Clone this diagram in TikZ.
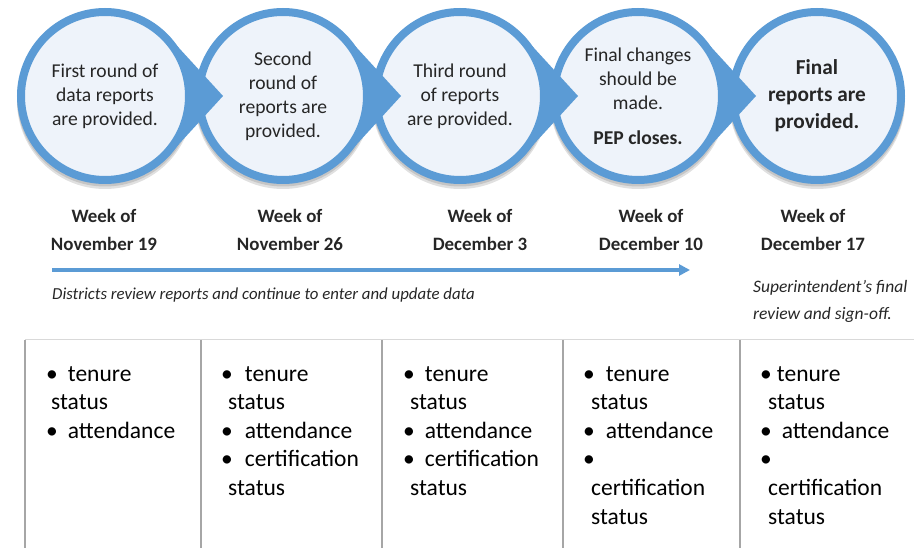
\documentclass[tikz,border=0pt]{standalone}
\usepackage{fontspec}
\setmainfont{Carlito}
\usetikzlibrary{calc,arrows.meta}
\definecolor{ringblue}{HTML}{5B9BD5}
\definecolor{innerfill}{HTML}{EEF3FA}
\definecolor{txt}{HTML}{262626}
\definecolor{tblline}{HTML}{A6A6A6}
\definecolor{tbltop}{HTML}{D9D9D9}
\begin{document}
\begin{tikzpicture}[x=1pt,y=-1pt,
  circ/.style={circle, fill=innerfill, draw=ringblue, line width=8pt, minimum size=168pt,
    inner sep=0pt, align=center, text=txt, font=\fontsize{19.6}{24}\selectfont},
  shade1/.style={fill=black, opacity=0.12},
  tipfill/.style={fill=ringblue},
  week/.style={align=center, text=txt, font=\bfseries\fontsize{18.9}{28}\selectfont},
  note/.style={text=txt, font=\itshape\fontsize{16.8}{26}\selectfont, inner sep=0pt},
  col/.style={anchor=north west, align=left, inner sep=0pt, text=black,
    font=\fontsize{23.5}{28.6}\selectfont},
  tbl/.style={draw=tblline, line width=1.3pt}]
\useasboundingbox (0,0) rectangle (914,548);
% shadows
\foreach \cx in {105,283,460,638,817}{
  \fill[shade1] (\cx,101) circle[radius=88];
  \fill[shade1] (\cx,98.5) circle[radius=88];
}
% circle 5
\node[circ, font=\bfseries\fontsize{21.3}{27}\selectfont] (c5) at (817,96) {Final\\reports are\\provided.};
% circle 4 and its tip
\node[circ] (c4) at (638,96) {Final changes\\should be\\made.\\[11pt]\textbf{PEP closes.}};
\coordinate (t4) at (756,96);
\fill[tipfill] (t4) -- ($(c4.center)+(41.8:87)$) arc[start angle=41.8, end angle=-41.8, radius=87] -- cycle;
% circle 3
\node[circ] (c3) at (460,96) {Third round\\of reports\\are provided.};
\coordinate (t3) at (578,96);
\fill[tipfill] (t3) -- ($(c3.center)+(41.8:87)$) arc[start angle=41.8, end angle=-41.8, radius=87] -- cycle;
% circle 2
\node[circ] (c2) at (283,96) {Second\\round of\\reports are\\provided.};
\coordinate (t2) at (401,96);
\fill[tipfill] (t2) -- ($(c2.center)+(41.8:87)$) arc[start angle=41.8, end angle=-41.8, radius=87] -- cycle;
% circle 1
\node[circ] (c1) at (105,96) {First round of\\data reports\\are provided.};
\coordinate (t1) at (223,96);
\fill[tipfill] (t1) -- ($(c1.center)+(41.8:87)$) arc[start angle=41.8, end angle=-41.8, radius=87] -- cycle;
% week labels
\node[week] (w1) at (104,230) {Week of\\November 19};
\node[week] (w2) at (290,230) {Week of\\November 26};
\node[week] (w3) at (480,230) {Week of\\December 3};
\node[week] (w4) at (651,230) {Week of\\December 10};
\node[week] (w5) at (813,230) {Week of\\December 17};
% timeline arrow
\coordinate (a0) at (52,270);
\coordinate (a1) at (690,270);
\draw[ringblue, line width=3.5pt, -{Triangle[length=11pt,width=11pt]}] (a0) -- (a1);
\node[note, anchor=west] (d) at (52,295) {Districts review reports and continue to enter and update data};
\node[note, anchor=north west, align=left, font=\itshape\fontsize{17.5}{27}\selectfont] (s) at (753,280) {Superintendent’s final\\review and sign-off.};
% table
\draw[draw=tbltop, line width=1pt] (25,340) -- (914,340);
\foreach \x in {25,201,382,563,740}{
  \draw[tbl] (\x,340) -- (\x,548);
}
\node[col] (l1) at (46,366) {•\hspace{10pt}tenure\\\hspace*{5pt}status\\•\hspace{10pt}attendance};
\node[col] (l2) at (221,366) {•\hspace{12pt}tenure\\\hspace*{7pt}status\\•\hspace{12pt}attendance\\•\hspace{12pt}certification\\\hspace*{7pt}status};
\node[col] (l3) at (403,366) {•\hspace{10pt}tenure\\\hspace*{7pt}status\\•\hspace{10pt}attendance\\•\hspace{10pt}certification\\\hspace*{7pt}status};
\node[col] (l4) at (583,366) {•\hspace{11pt}tenure\\\hspace*{8pt}status\\•\hspace{11pt}attendance\\•\\\hspace*{8pt}certification\\\hspace*{8pt}status};
\node[col] (l5) at (760,366) {•\hspace{5pt}tenure\\\hspace*{8pt}status\\•\hspace{10pt}attendance\\•\\\hspace*{8pt}certification\\\hspace*{8pt}status};
\end{tikzpicture}
\end{document}
